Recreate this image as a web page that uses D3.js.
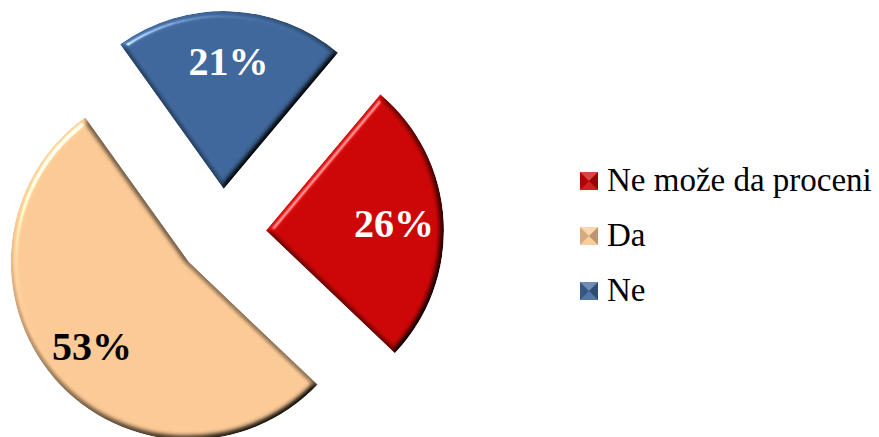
<!DOCTYPE html>
<html>
<head>
<meta charset="utf-8">
<script src="https://cdnjs.cloudflare.com/ajax/libs/d3/7.8.5/d3.min.js"></script>
<style>
  body { margin: 0; background: #fff; }
  svg { display: block; }
</style>
</head>
<body>
<svg width="879" height="437"></svg>
<script>
var categories = ["Ne može da proceni", "Da", "Ne"];
var values = [26, 53, 21];
var labels = ["26%", "53%", "21%"];

var svg = d3.select("svg"),
    width = +svg.attr("width"),
    height = +svg.attr("height");

var cx = 222, cy = 233, radius = 178, explode = 44;

var color = d3.scaleOrdinal()
    .domain(categories)
    .range(["#cc0606", "#fbc995", "#3f679b"]);
var textColor = d3.scaleOrdinal()
    .domain(categories)
    .range(["#ffffff", "#000000", "#ffffff"]);

// bevel filter
var defs = svg.append("defs");
var f = defs.append("filter").attr("id", "bevel")
    .attr("color-interpolation-filters", "sRGB")
    .attr("x", "-10%").attr("y", "-10%").attr("width", "120%").attr("height", "120%");
f.append("feGaussianBlur").attr("in", "SourceAlpha").attr("stdDeviation", 3).attr("result", "blur");
f.append("feDiffuseLighting").attr("in", "blur").attr("surfaceScale", 6)
    .attr("diffuseConstant", 1.155).attr("lighting-color", "#fff").attr("result", "diff")
  .append("feDistantLight").attr("azimuth", 225).attr("elevation", 60);
f.append("feComposite").attr("in", "diff").attr("in2", "SourceGraphic")
    .attr("operator", "arithmetic").attr("k1", 1).attr("result", "shaded");
f.append("feSpecularLighting").attr("in", "blur").attr("surfaceScale", 6)
    .attr("specularConstant", 0.6).attr("specularExponent", 30)
    .attr("lighting-color", "#fff").attr("result", "spec")
  .append("feDistantLight").attr("azimuth", 225).attr("elevation", 28);
f.append("feComposite").attr("in", "spec").attr("in2", "SourceAlpha")
    .attr("operator", "in").attr("result", "specIn");
f.append("feComposite").attr("in", "shaded").attr("in2", "specIn")
    .attr("operator", "arithmetic").attr("k2", 1).attr("k3", 1).attr("result", "lit");
f.append("feComposite").attr("in", "lit").attr("in2", "SourceAlpha").attr("operator", "in");

var start = 40 * Math.PI / 180;
var pie = d3.pie().sort(null)
    .startAngle(start).endAngle(start + 2 * Math.PI)
    .value(function(d, i) { return values[i]; });
var arcs = pie(categories);

var arc = d3.arc().innerRadius(0).outerRadius(radius);
var labelArc = d3.arc().innerRadius(radius * 0.72).outerRadius(radius * 0.72);

function offset(d) {
  var a = (d.startAngle + d.endAngle) / 2;
  return [cx + explode * Math.sin(a), cy - explode * Math.cos(a)];
}

var slices = svg.append("g").attr("id", "pie")
  .selectAll("g")
  .data(arcs)
  .enter().append("g")
  .attr("transform", function(d) { var o = offset(d); return "translate(" + o[0] + "," + o[1] + ")"; });

slices.append("path")
  .attr("d", arc)
  .attr("fill", function(d) { return color(d.data); })
  .attr("filter", "url(#bevel)");

slices.append("text")
  .attr("transform", function(d) { var c = labelArc.centroid(d); return "translate(" + c[0] + "," + c[1] + ")"; })
  .attr("text-anchor", "middle")
  .attr("dy", "0.35em")
  .attr("font-family", "Liberation Serif, serif")
  .attr("font-weight", "bold")
  .attr("font-size", 40)
  .attr("fill", function(d) { return textColor(d.data); })
  .text(function(d) { return labels[d.index]; });

// legend
var legend = svg.append("g").attr("id", "legend")
  .selectAll("g")
  .data(categories)
  .enter().append("g")
  .attr("transform", function(d, i) { return "translate(580," + (172 + i * 55) + ")"; });

var s = 18;
legend.append("rect")
  .attr("width", s).attr("height", s)
  .attr("fill", function(d) { return color(d); });
// pyramid facets of the legend key
var facets = [
  { pts: [[0,0],[s,0],[s/2,s/2]], c: "rgba(255,255,255,0.25)" },
  { pts: [[0,0],[0,s],[s/2,s/2]], c: "rgba(0,0,0,0.15)" },
  { pts: [[s,0],[s,s],[s/2,s/2]], c: "rgba(0,0,0,0.25)" },
  { pts: [[0,s],[s,s],[s/2,s/2]], c: "rgba(255,255,255,0.1)" }
];
legend.selectAll("path.facet")
  .data(facets)
  .enter().append("path")
  .attr("class", "facet")
  .attr("d", function(f) { return d3.line()(f.pts) + "Z"; })
  .attr("fill", function(f) { return f.c; });

legend.append("text")
  .attr("x", 27)
  .attr("y", s + 1)
  .attr("font-family", "Liberation Serif, serif")
  .attr("font-size", 33)
  .attr("fill", "#000")
  .text(function(d) { return d; });
</script>
</body>
</html>
